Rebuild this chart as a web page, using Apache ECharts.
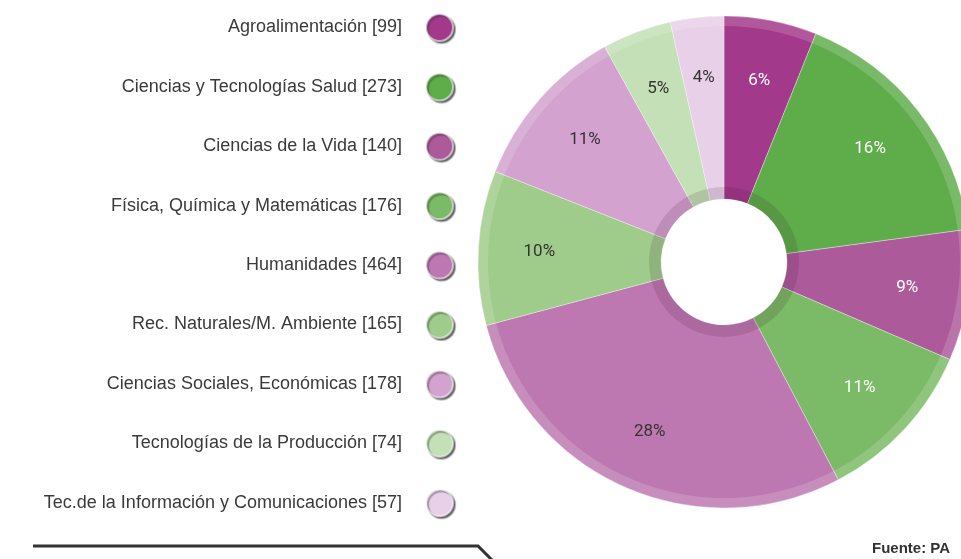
<!DOCTYPE html>
<html>
<head>
<meta charset="utf-8">
<script src="https://cdn.jsdelivr.net/npm/echarts@6/dist/echarts.min.js"></script>
<style>
html,body{margin:0;padding:0;background:#fff;}
#chart{width:961px;height:559px;}
</style>
</head>
<body>
<div id="chart"></div>
<script>
const categories = [
  'Agroalimentación',
  'Ciencias y Tecnologías Salud',
  'Ciencias de la Vida',
  'Física, Química y Matemáticas',
  'Humanidades',
  'Rec. Naturales/M. Ambiente',
  'Ciencias Sociales, Económicas',
  'Tecnologías de la Producción',
  'Tec.de la Información y Comunicaciones'
];
const counts = [99, 273, 140, 176, 464, 165, 178, 74, 57];
const pctLabels = ['6%', '16%', '9%', '11%', '28%', '10%', '11%', '5%', '4%'];
const colors = ['#A3398B', '#5FAD4A', '#AD5A9B', '#7BBA66', '#BD78B1', '#9FCC8A', '#D3A2CF', '#C3E0B6', '#E8D0E8'];
const labelColors = ['#ffffff', '#ffffff', '#ffffff', '#ffffff', '#333333', '#333333', '#333333', '#333333', '#333333'];

const center = [724, 262];
const chart = echarts.init(document.getElementById('chart'));

const mainData = categories.map((c, i) => ({ name: c, value: counts[i], itemStyle: { color: colors[i] } }));
const labelData = categories.map((c, i) => ({
  name: c, value: counts[i],
  itemStyle: { color: 'rgba(0,0,0,0)' },
  label: { color: labelColors[i], formatter: pctLabels[i] }
}));

chart.setOption({
  animation: false,
  legend: {
    data: categories,
    orient: 'vertical',
    align: 'right',
    right: 502,
    top: 8,
    icon: 'circle',
    itemWidth: 27,
    itemHeight: 27,
    itemGap: 30.4,
    selectedMode: false,
    formatter: function (name) {
      return name + ' [' + counts[categories.indexOf(name)] + ']';
    },
    textStyle: {
      fontFamily: '"Liberation Sans Narrow", "Liberation Sans", sans-serif',
      fontSize: 18,
      color: '#3a3a3a',
      padding: [0, 19, 0, 0]
    },
    itemStyle: {
      shadowColor: 'rgba(60,60,60,0.75)',
      shadowOffsetX: 2,
      shadowOffsetY: 2,
      shadowBlur: 1
    }
  },
  series: [
    {
      type: 'pie',
      center: center,
      radius: [63, 246],
      startAngle: 90,
      clockwise: true,
      silent: true,
      label: { show: false },
      labelLine: { show: false },
      itemStyle: { borderColor: 'rgba(255,255,255,0.55)', borderWidth: 0.6 },
      data: mainData
    },
    {
      type: 'pie',
      center: center,
      radius: [63, 75],
      silent: true,
      label: { show: false },
      labelLine: { show: false },
      itemStyle: { color: 'rgba(40,0,30,0.12)' },
      data: [{ name: '_ring', value: 1 }]
    },
    {
      type: 'pie',
      center: center,
      radius: [236, 246],
      silent: true,
      label: { show: false },
      labelLine: { show: false },
      itemStyle: { color: 'rgba(255,255,255,0.16)' },
      data: [{ name: '_rim', value: 1 }]
    },
    {
      type: 'pie',
      center: center,
      radius: [118, 246],
      startAngle: 90,
      clockwise: true,
      silent: true,
      label: {
        show: true,
        position: 'inside',
        fontFamily: 'Roboto, sans-serif',
        fontSize: 17
      },
      labelLine: { show: false },
      data: labelData
    }
  ],
  graphic: [
    {
      type: 'polyline',
      shape: { points: [[33, 546], [478, 546], [492, 560]] },
      style: { stroke: '#333333', lineWidth: 3, fill: null }
    },
    {
      type: 'text',
      left: 872,
      top: 541,
      style: {
        text: 'Fuente: PA',
        font: 'bold 15px "Liberation Sans Narrow", "Liberation Sans", sans-serif',
        fill: '#333333'
      }
    }
  ]
});
</script>
</body>
</html>
